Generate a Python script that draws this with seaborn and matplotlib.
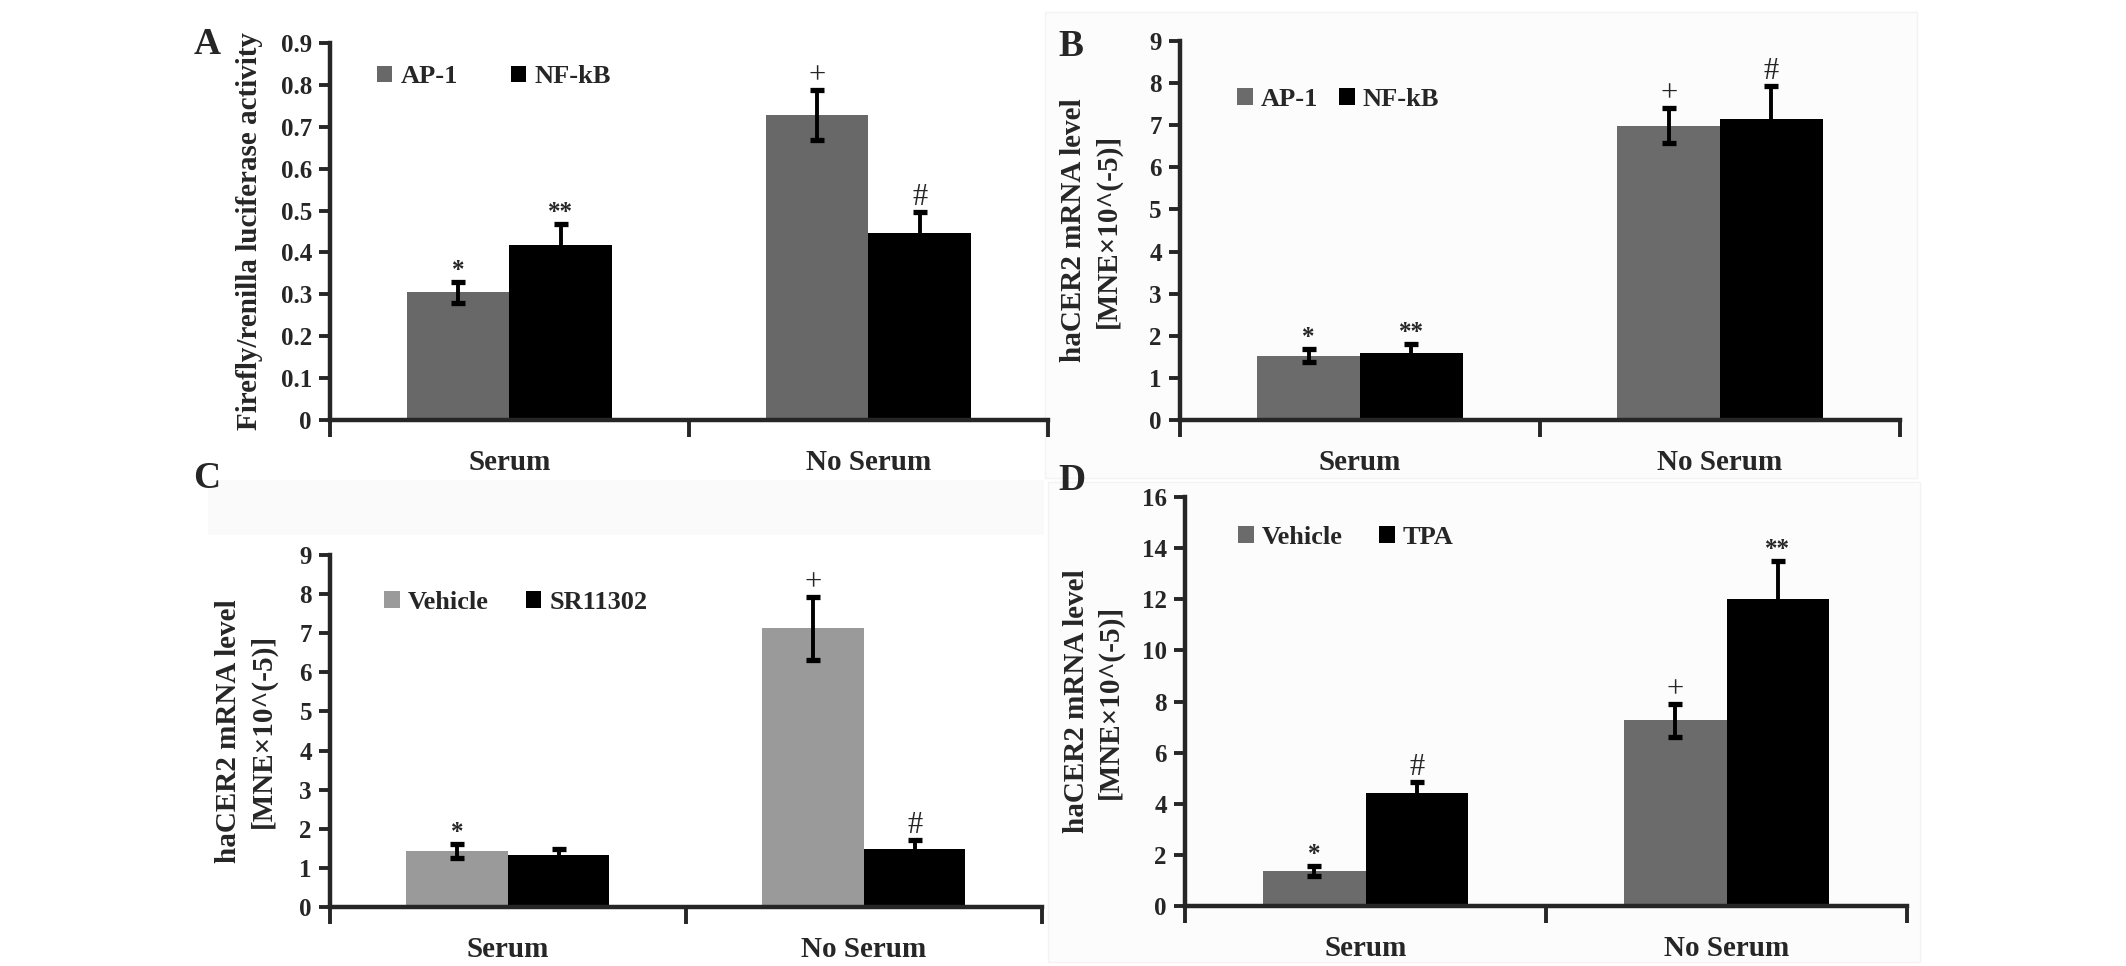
import matplotlib
matplotlib.use('Agg')
import pandas as pd
import seaborn as sns
import matplotlib.pyplot as plt
from matplotlib.patches import Rectangle

# x categories shared by all four panels
conditions = ['Serum', 'No Serum']

# Panel A - luciferase reporter
a_series = ['AP-1', 'NF-kB']
a_ap1 = [0.305, 0.728]
a_ap1_err = [0.025, 0.06]
a_nfkb = [0.417, 0.446]
a_nfkb_err = [0.05, 0.05]
a_marks = [['*', '+'], ['**', '#']]
a_ticks = [0, 0.1, 0.2, 0.3, 0.4, 0.5, 0.6, 0.7, 0.8, 0.9]
a_ticklabels = ['0', '0.1', '0.2', '0.3', '0.4', '0.5', '0.6', '0.7', '0.8', '0.9']

# Panel B - haCER2 mRNA, AP-1 / NF-kB
b_series = ['AP-1', 'NF-kB']
b_ap1 = [1.53, 6.99]
b_ap1_err = [0.15, 0.42]
b_nfkb = [1.60, 7.14]
b_nfkb_err = [0.21, 0.79]
b_marks = [['*', '+'], ['**', '#']]

# Panel C - haCER2 mRNA, Vehicle / SR11302
c_series = ['Vehicle', 'SR11302']
c_vehicle = [1.44, 7.12]
c_vehicle_err = [0.18, 0.81]
c_sr = [1.33, 1.48]
c_sr_err = [0.15, 0.22]
c_marks = [['*', '+'], ['', '#']]

# Panel D - haCER2 mRNA, Vehicle / TPA
d_series = ['Vehicle', 'TPA']
d_vehicle = [1.37, 7.26]
d_vehicle_err = [0.20, 0.65]
d_tpa = [4.44, 12.02]
d_tpa_err = [0.42, 1.48]
d_marks = [['*', '+'], ['#', '**']]

nine_ticks = [0, 1, 2, 3, 4, 5, 6, 7, 8, 9]
nine_labels = ['0', '1', '2', '3', '4', '5', '6', '7', '8', '9']
d_ticks = [0, 2, 4, 6, 8, 10, 12, 14, 16]
d_labels = ['0', '2', '4', '6', '8', '10', '12', '14', '16']

mrna_label = 'haCER2 mRNA level\n[MNE\u00d710^(-5)]'

sns.set_style('ticks')
plt.rcParams['font.family'] = ['Liberation Serif', 'DejaVu Serif']


def draw_panel(ax, series, values, errors, marks, colors, yticks, yticklabels,
               ylabel, label_x, leg_xy, colspace):
    df = pd.DataFrame({
        'condition': conditions * len(series),
        'treatment': [s for s in series for _ in conditions],
        'value': [v for vals in values for v in vals],
    })
    sns.barplot(data=df, x='condition', y='value', hue='treatment',
                order=conditions, hue_order=series, palette=colors,
                width=0.57, saturation=1, errorbar=None, linewidth=0, ax=ax)

    # error bars and significance marks on top of each bar
    bars = list(ax.containers)
    for cont, errs, mk in zip(bars, errors, marks):
        xs = [p.get_x() + p.get_width() / 2 for p in cont.patches]
        hs = [p.get_height() for p in cont.patches]
        ax.errorbar(xs, hs, yerr=errs, fmt='none', ecolor='black',
                    elinewidth=2.8, capsize=5, capthick=3.8, zorder=3)
        for x, h, e, m in zip(xs, hs, errs, mk):
            if not m:
                continue
            star = '*' in m
            ax.annotate(m, (x, h + e), xytext=(0, 0), textcoords='offset points',
                        ha='center', va='bottom',
                        fontsize=18 if star else 22,
                        fontweight='bold' if star else 'normal')

    ax.set_ylim(yticks[0], yticks[-1])
    ax.set_yticks(yticks)
    ax.set_yticklabels(yticklabels)
    ax.set_xlim(-0.5, 1.5)
    ax.set_xticks([-0.5, 0.5, 1.5], minor=True)
    ax.tick_params(axis='x', which='major', length=0, pad=21, labelsize=21)
    ax.tick_params(axis='x', which='minor', length=12, width=2.8, direction='out')
    ax.tick_params(axis='y', length=8, width=2.8, direction='out', labelsize=18, pad=5)
    for lab in ax.get_xticklabels() + ax.get_yticklabels():
        lab.set_fontweight('bold')
    sns.despine(ax=ax)
    ax.spines['left'].set_linewidth(3.2)
    ax.spines['bottom'].set_linewidth(3.2)
    ax.patch.set_alpha(0)

    ax.set_xlabel('')
    ax.set_ylabel(ylabel, fontsize=21, fontweight='bold', linespacing=1.35)
    ax.yaxis.label.set_va('center')
    ax.yaxis.set_label_coords(label_x, 0.5)

    sns.move_legend(ax, 'center left', bbox_to_anchor=leg_xy, ncol=2,
                    frameon=False, title=None,
                    prop={'weight': 'bold', 'size': 19},
                    handlelength=0.6, handleheight=0.6, handletextpad=0.3,
                    columnspacing=colspace, borderpad=0, borderaxespad=0)


fig = plt.figure(figsize=(21.26, 9.66), dpi=100)

# faint scanned panel backgrounds
fig.add_artist(Rectangle((1045 / 2126, 1 - 478 / 966), 872 / 2126, 466 / 966,
                         transform=fig.transFigure, facecolor='#fcfcfc',
                         edgecolor='#f3f3f3', lw=1, zorder=0))
fig.add_artist(Rectangle((1048 / 2126, 1 - 962 / 966), 872 / 2126, 480 / 966,
                         transform=fig.transFigure, facecolor='#fcfcfc',
                         edgecolor='#f3f3f3', lw=1, zorder=0))
fig.add_artist(Rectangle((208 / 2126, 1 - 535 / 966), 836 / 2126, 55 / 966,
                         transform=fig.transFigure, facecolor='#fafafa',
                         edgecolor='none', zorder=0))

ax_a = fig.add_axes([0.1552, 0.5652, 0.3377, 0.3903])
ax_b = fig.add_axes([0.5550, 0.5652, 0.3387, 0.3923])
ax_c = fig.add_axes([0.1552, 0.0611, 0.3349, 0.3644])
ax_d = fig.add_axes([0.5574, 0.0621, 0.3396, 0.4234])

draw_panel(ax_a, a_series, [a_ap1, a_nfkb], [a_ap1_err, a_nfkb_err], a_marks,
           ['#686868', '#000000'], a_ticks, a_ticklabels,
           'Firefly/renilla luciferase activity', -0.112, (0.065, 0.91), 2.0)
draw_panel(ax_b, b_series, [b_ap1, b_nfkb], [b_ap1_err, b_nfkb_err], b_marks,
           ['#6b6b6b', '#000000'], nine_ticks, nine_labels,
           mrna_label, -0.124, (0.079, 0.847), 0.8)
draw_panel(ax_c, c_series, [c_vehicle, c_sr], [c_vehicle_err, c_sr_err], c_marks,
           ['#9a9a9a', '#000000'], nine_ticks, nine_labels,
           mrna_label, -0.118, (0.076, 0.866), 1.4)
draw_panel(ax_d, d_series, [d_vehicle, d_tpa], [d_vehicle_err, d_tpa_err], d_marks,
           ['#6b6b6b', '#000000'], d_ticks, d_labels,
           mrna_label, -0.127, (0.073, 0.902), 1.4)

# panel letters
for letter, x, y in [('A', 207, 45), ('B', 1071, 46), ('C', 207, 479), ('D', 1072, 480)]:
    fig.text(x / 2126, 1 - y / 966, letter, fontsize=27, fontweight='bold',
             ha='center', va='center')

fig.savefig('out.png', dpi=100)
